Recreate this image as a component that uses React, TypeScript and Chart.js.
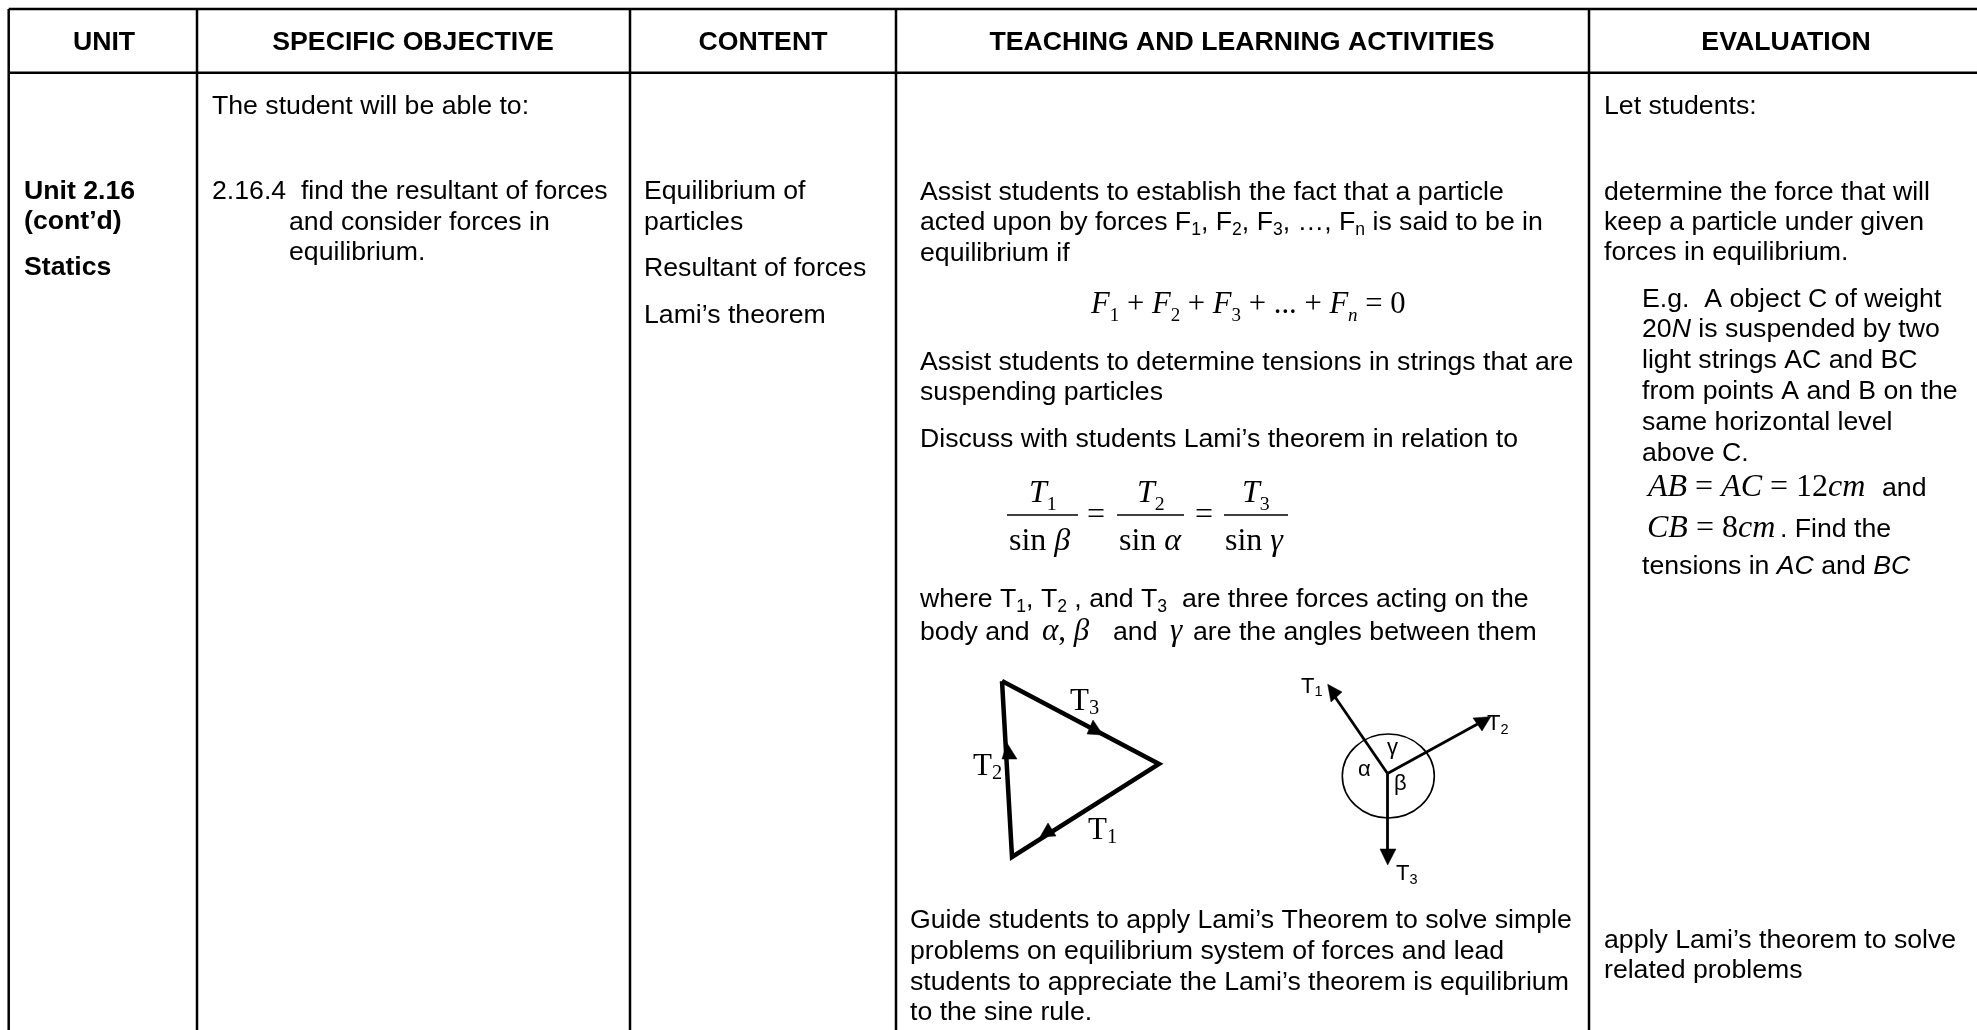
import React, { useEffect, useRef } from "react";
import { Chart, registerables } from "chart.js";

Chart.register(...registerables);

const WIDTH = 1977;
const HEIGHT = 1030;
const SANS = '"Liberation Sans"';
const SERIF = '"Liberation Serif"';
const BODY = 26.67;

// ---- table rules
const ruleColumns = [197, 630, 896, 1589];
const ruleOuter = { left: 8.7, right: 1977, top: 9, header: 72.7, bottom: 1030 };

// ---- header
const headerLabels = ["UNIT", "SPECIFIC OBJECTIVE", "CONTENT", "TEACHING AND LEARNING ACTIVITIES", "EVALUATION"];
const headerCentres = [104, 413, 763, 1242, 1786];
const headerBaseline = 50;

// ---- cells: markup {_:x} subscript, {i:x} italic, {m:x} math italic, {r:x} math roman
const unitLines = ["Unit 2.16", "(cont’d)", "Statics"];
const unitAnchors = [[24, 199], [24, 229], [24, 275]];

const objectiveLines = ["The student will be able to:", "2.16.4  find the resultant of forces", "and consider forces in", "equilibrium."];
const objectiveAnchors = [[212, 114], [212, 199], [289, 229.5], [289, 260]];

const contentLines = ["Equilibrium of", "particles", "Resultant of forces", "Lami’s theorem"];
const contentAnchors = [[644, 199], [644, 229.5], [644, 276], [644, 322.5]];

const activityLines = [
  "Assist students to establish the fact that a particle",
  "acted upon by forces F{_:1}, F{_:2}, F{_:3}, …, F{_:n} is said to be in",
  "equilibrium if",
  "Assist students to determine tensions in strings that are",
  "suspending particles",
  "Discuss with students Lami’s theorem in relation to",
  "where T{_:1}, T{_:2} , and T{_:3}  are three forces acting on the",
  "body and",
  "and",
  "are the angles between them",
  "Guide students to apply Lami’s Theorem to solve simple",
  "problems on equilibrium system of forces and lead",
  "students to appreciate the Lami’s theorem is equilibrium",
  "to the sine rule.",
];
const activityAnchors = [
  [920, 200], [920, 230], [920, 261], [920, 370], [920, 400], [920, 447], [920, 607], [920, 640],
  [1113, 640], [1193, 640], [910, 928], [910, 959], [910, 990], [910, 1020],
];

const evaluationLines = [
  "Let students:", "determine the force that will", "keep a particle under given", "forces in equilibrium.",
  "E.g.  A object C of weight", "20{i:N} is suspended by two", "light strings AC and BC", "from points A and B on the",
  "same horizontal level", "above C.", "and", ". Find the", "tensions in {i:AC} and {i:BC}",
  "apply Lami’s theorem to solve", "related problems",
];
const evaluationAnchors = [
  [1604, 114], [1604, 200], [1604, 230], [1604, 260], [1642, 307], [1642, 337], [1642, 368], [1642, 399],
  [1642, 430], [1642, 461], [1882, 496], [1780, 537], [1642, 574], [1604, 948], [1604, 978],
];

// ---- mathematics
const mathLines = [
  "{m:F}{s:1} + {m:F}{s:2} + {m:F}{s:3} + ... + {m:F}{t:n} = 0",
  "{m:T}{s:1}", "{m:T}{s:2}", "{m:T}{s:3}",
  "sin {m:β}", "sin {m:α}", "sin {m:γ}", "=", "=",
  "{m:α}, {m:β}", "{m:γ}",
  "{m:AB} = {m:AC} = 12{m:cm}", "{m:CB} = 8{m:cm}",
];
const mathAnchors = [
  [1091, 313, 30.7], [1029, 502, 32], [1137, 502, 32], [1242, 502, 32],
  [1009, 550, 32], [1119, 550, 32], [1225, 550, 32], [1087, 524, 32], [1195, 524, 32],
  [1042, 640, 31], [1170, 640, 31], [1648, 496, 32], [1647, 537, 32],
];
const fractionBars = [[1007, 1078, 515], [1117, 1184, 515], [1224, 1288, 515]];

// ---- triangle diagram
const triangleCorners = [[1002, 681], [1159, 764], [1012, 857], [1002, 681]];
const triangleHeads = [
  [[1103, 735], [1087, 734], [1093, 720]],
  [[1007, 743], [1002, 759], [1017, 759]],
  [[1040, 837], [1048, 823], [1056, 836]],
];
const triangleLabels = ["T{S:3}", "T{S:2}", "T{S:1}"];
const triangleAnchors = [[1070, 710, 31], [973, 775, 31], [1088, 839, 31]];

// ---- vector diagram
const vectorCentre = [1387.5, 773.5];
const vectorTips = [[1333, 694], [1483, 721], [1387.5, 855]];
const vectorHeads = [
  [[1327.7, 684.3], [1342, 692], [1331, 702]],
  [[1490.7, 716.7], [1473, 718], [1482, 731]],
  [[1387.7, 865], [1380, 849], [1396, 849]],
];
const vectorRing = { x: 1388.3, y: 776, rx: 46, ry: 42 };
const vectorLabels = ["T{_:1}", "T{_:2}", "T{_:3}"];
const vectorAnchors = [[1301, 692.5, 22], [1487, 730, 22], [1396, 880, 22]];
const angleLabels = ["α", "γ", "β"];
const angleAnchors = [[1358, 776, 22], [1387, 754, 22], [1394, 790, 22]];

type Run = { text: string; font: string; size: number; drop: number };

function parseRuns(line: string, size: number, base = SANS): Run[] {
  const runs: Run[] = [];
  const pattern = /\{([_imstS]):([^}]*)\}|[^{]+/g;
  let hit: RegExpExecArray | null;
  while ((hit = pattern.exec(line))) {
    const kind = hit[1];
    if (!kind) runs.push({ text: hit[0], font: `${size}px ${base}`, size, drop: 0 });
    else if (kind === "_") runs.push({ text: hit[2], font: `${size * 0.66}px ${base}`, size, drop: size * 0.18 });
    else if (kind === "i") runs.push({ text: hit[2], font: `italic ${size}px ${base}`, size, drop: 0 });
    else if (kind === "m") runs.push({ text: hit[2], font: `italic ${size}px ${SERIF}`, size, drop: 0 });
    else if (kind === "s") runs.push({ text: hit[2], font: `${size * 0.62}px ${SERIF}`, size, drop: size * 0.25 });
    else if (kind === "S") runs.push({ text: hit[2], font: `${size * 0.66}px ${SERIF}`, size, drop: size * 0.12 });
    else if (kind === "t") runs.push({ text: hit[2], font: `italic ${size * 0.62}px ${SERIF}`, size, drop: size * 0.25 });
  }
  return runs;
}

const tablePlugin = {
  id: "tableText",
  afterDatasetsDraw(chart: any) {
    const { ctx, scales } = chart;
    const px = (v: number) => scales.x.getPixelForValue(v);
    const py = (v: number) => scales.y.getPixelForValue(v);

    const put = (line: string, x: number, y: number, size: number, base = SANS) => {
      let cx = px(x);
      for (const run of parseRuns(line, size, base)) {
        ctx.font = run.font;
        ctx.fillText(run.text, cx, py(y + run.drop));
        cx += ctx.measureText(run.text).width;
      }
    };

    ctx.save();
    ctx.fillStyle = "#000";
    ctx.textBaseline = "alphabetic";
    ctx.textAlign = "left";

    ctx.font = `bold ${BODY}px ${SANS}`;
    headerLabels.forEach((label, i) => {
      ctx.textAlign = "center";
      ctx.fillText(label, px(headerCentres[i]), py(headerBaseline));
    });
    unitLines.forEach((line, i) => {
      ctx.textAlign = "left";
      ctx.font = `bold ${BODY}px ${SANS}`;
      ctx.fillText(line, px(unitAnchors[i][0]), py(unitAnchors[i][1]));
    });
    const cells: [string[], number[][]][] = [
      [objectiveLines, objectiveAnchors],
      [contentLines, contentAnchors],
      [activityLines, activityAnchors],
      [evaluationLines, evaluationAnchors],
    ];
    cells.forEach(([lines, anchors]) =>
      lines.forEach((line, i) => put(line, anchors[i][0], anchors[i][1], BODY)),
    );
    mathLines.forEach((line, i) => put(line, mathAnchors[i][0], mathAnchors[i][1], mathAnchors[i][2], SERIF));
    triangleLabels.forEach((line, i) => put(line, triangleAnchors[i][0], triangleAnchors[i][1], triangleAnchors[i][2], SERIF));
    vectorLabels.forEach((line, i) => put(line, vectorAnchors[i][0], vectorAnchors[i][1], vectorAnchors[i][2]));
    angleLabels.forEach((line, i) => put(line, angleAnchors[i][0], angleAnchors[i][1], angleAnchors[i][2]));

    ctx.strokeStyle = "#000";
    ctx.lineWidth = 1.6;
    ctx.beginPath();
    ctx.ellipse(px(vectorRing.x), py(vectorRing.y), vectorRing.rx, vectorRing.ry, 0, 0, Math.PI * 2);
    ctx.stroke();
    ctx.restore();
  },
};

const toPoints = (pts: number[][]) => pts.map(([x, y]) => ({ x, y }));
const stroke = (pts: number[][], width: number) => ({
  data: toPoints(pts),
  showLine: true,
  borderColor: "#000",
  borderWidth: width,
  pointRadius: 0,
  borderJoinStyle: "miter" as const,
  tension: 0,
  fill: false,
});
const head = (pts: number[][]) => ({
  data: toPoints([...pts, pts[0]]),
  showLine: true,
  borderColor: "#000",
  borderWidth: 0.5,
  backgroundColor: "#000",
  pointRadius: 0,
  tension: 0,
  fill: "shape" as const,
});

export default function App() {
  const ref = useRef<HTMLCanvasElement>(null);

  useEffect(() => {
    document.body.style.margin = "0";
    const { left, right, top, header, bottom } = ruleOuter;
    const datasets: any[] = [
      stroke([[left, top], [right, top]], 2.5),
      stroke([[left, header], [right, header]], 2.5),
      stroke([[left, top], [left, bottom]], 2.5),
      ...ruleColumns.map((x) => stroke([[x, top], [x, bottom]], 2.5)),
      ...fractionBars.map(([a, b, y]) => stroke([[a, y], [b, y]], 1.5)),
      stroke(triangleCorners, 4.5),
      ...triangleHeads.map(head),
      ...vectorTips.map((tip) => stroke([vectorCentre, tip], 2.8)),
      ...vectorHeads.map(head),
    ];
    const chart = new Chart(ref.current!, {
      type: "scatter",
      data: { datasets },
      plugins: [tablePlugin],
      options: {
        animation: false,
        responsive: false,
        devicePixelRatio: 1,
        layout: { padding: 0 },
        events: [],
        plugins: { legend: { display: false }, tooltip: { enabled: false }, title: { display: false } },
        scales: {
          x: { type: "linear", min: 0, max: WIDTH, display: false },
          y: { type: "linear", min: 0, max: HEIGHT, reverse: true, display: false },
        },
      },
    });
    return () => chart.destroy();
  }, []);

  return (
    <div style={{ position: "absolute", left: 0, top: 0, width: WIDTH, height: HEIGHT, overflow: "hidden", background: "#fff" }}>
      <canvas ref={ref} width={WIDTH} height={HEIGHT} style={{ display: "block" }} />
    </div>
  );
}
